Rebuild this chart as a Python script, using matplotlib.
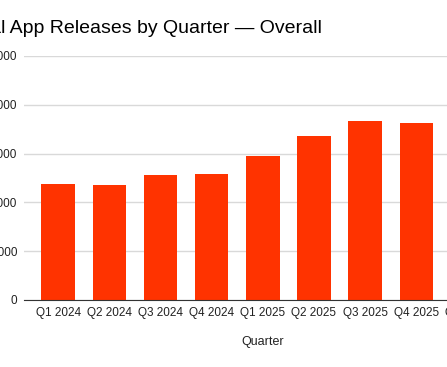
import matplotlib
matplotlib.use("Agg")
import matplotlib.pyplot as plt

plt.rcParams["font.family"] = ["Liberation Sans", "DejaVu Sans"]

quarters = ["Q1 2024", "Q2 2024", "Q3 2024", "Q4 2024",
            "Q1 2025", "Q2 2025", "Q3 2025", "Q4 2025", "Q1 2026"]
releases = [2377, 2357, 2561, 2582, 2945, 3354, 3674, 3633]
yticks = [0, 1000, 2000, 3000, 4000, 5000]

W, H = 447, 367
fig = plt.figure(figsize=(W / 100, H / 100), dpi=100)
ax = fig.add_axes([24 / W, 67 / H, (501.6 - 24) / W, 244 / H])

ax.bar(range(len(releases)), releases, width=0.655, color="#ff3300", zorder=3)

ax.set_xlim(-0.668, len(quarters) - 1 + 0.668)
ax.set_ylim(0, 5000)
ax.set_yticks(yticks)
ax.set_yticklabels([str(v) for v in yticks])
ax.set_xticks(range(len(quarters)))
ax.set_xticklabels(quarters)
ax.tick_params(axis="both", length=0, labelsize=8.5, colors="#222222")
ax.tick_params(axis="y", pad=5)
ax.tick_params(axis="x", pad=5)

ax.grid(axis="y", color="#d9d9d9", linewidth=1, zorder=0)
for side in ["left", "right", "top"]:
    ax.spines[side].set_visible(False)
ax.spines["bottom"].set_color("#333333")
ax.spines["bottom"].set_zorder(4)

ax.set_xlabel("Quarter", fontsize=9, color="#222222", labelpad=12)

fig.text(322 / W, (H - 33) / H, "Total App Releases by Quarter \u2014 Overall",
         ha="right", va="baseline", fontsize=14, color="#000000")

fig.savefig("out.png", dpi=100)
